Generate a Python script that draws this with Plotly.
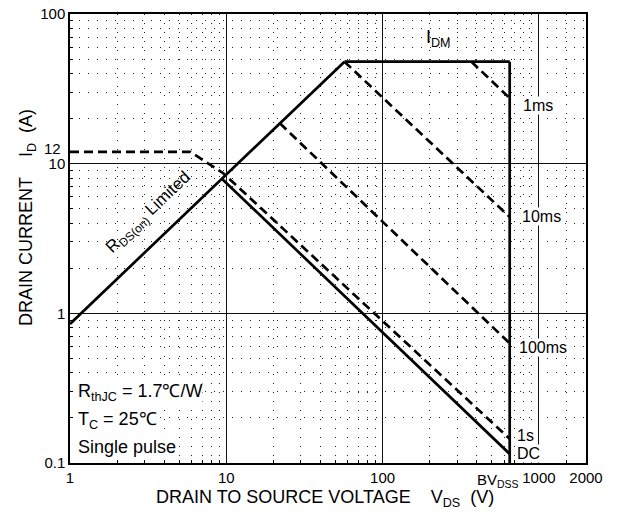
import math
import plotly.graph_objects as go

# Safe operating area boundaries (V_DS in volts, I_D in amperes)
rds_v = [1, 57]
rds_i = [0.85, 48]
idm_v = [57, 650]
idm_i = [48, 48]
bv_v = [650, 650]
bv_i = [48, 0.1]
dc_v = [9.4, 650]
dc_i = [7.9, 0.115]
s1_v = [1, 5.9, 9.6, 650]
s1_i = [12, 12, 8.6, 0.145]
ms100_v = [22, 650]
ms100_i = [18.6, 0.63]
ms10_v = [57, 650]
ms10_i = [48, 4.4]
ms1_v = [370, 650]
ms1_i = [48, 27.4]

x_ticks = [1, 10, 100, 1000, 2000]
x_ticktext = ["1", "10", "100", "1000", "2000"]
y_ticks = [0.1, 1, 10, 100]
y_ticktext = ["0.1", "1", "10", "100"]
x_minor = [m * 10 ** d for d in range(0, 3) for m in range(2, 10)] + [1500]
y_minor = [m * 10 ** d for d in range(-1, 2) for m in range(2, 10)]

FONT = "Liberation Sans, Arial, sans-serif"
LW = 2.7
DASH = "9px,5px"

fig = go.Figure()


def add_line(xs, ys, dash=None):
    fig.add_trace(go.Scatter(
        x=xs, y=ys, mode="lines",
        line=dict(color="black", width=LW, dash=dash),
        showlegend=False, hoverinfo="skip"))


add_line(rds_v, rds_i)
add_line(idm_v, idm_i)
add_line(bv_v, bv_i)
add_line(dc_v, dc_i)
add_line(s1_v, s1_i, DASH)
add_line(ms100_v, ms100_i, DASH)
add_line(ms10_v, ms10_i, DASH)
add_line(ms1_v, ms1_i, DASH)

L = math.log10
anns = []


def label(text, x, y, size=16, xanchor="left", bg="white", **kw):
    anns.append(dict(text=text, x=x, y=y, xref="x", yref="y",
                     showarrow=False, xanchor=xanchor, yanchor="middle",
                     font=dict(family=FONT, size=size, color="black"),
                     bgcolor=bg, borderpad=0, **kw))


label("I<sub>DM</sub>", 2.271, 1.835, size=18, bg=None)
label("1ms", 2.890, 1.386)
label("10ms", 2.883, 0.646)
label("100ms", 2.866, -0.225)
label("1s", 2.853, -0.813)
label("DC", 2.853, -0.934)
label("R<sub>thJC</sub> = 1.7\u2103/W", 0.045, -0.530, size=18)
label("T<sub>C</sub> = 25\u2103", 0.045, -0.718, size=18)
label("Single pulse", 0.045, -0.894, size=18)
label("R<sub>DS(on)</sub> Limited", 0.505, 0.672, size=17,
      xanchor="center", bg=None, textangle=-43.7)

# extra tick labels: 12 A continuous rating and breakdown voltage
anns.append(dict(text="12", x=0, y=L(12), xref="paper", yref="y",
                 xanchor="right", yanchor="middle", xshift=-7, yshift=3,
                 showarrow=False,
                 font=dict(family=FONT, size=15, color="black")))
anns.append(dict(text="BV<sub>DSS</sub>", x=2.886, y=0, xref="x", yref="paper",
                 xanchor="right", yanchor="top", yshift=-6, showarrow=False,
                 font=dict(family=FONT, size=15, color="black")))

# axis titles
sp = "\u00a0" * 4
anns.append(dict(text="DRAIN TO SOURCE VOLTAGE" + sp + "V<sub>DS</sub>\u00a0\u00a0(V)",
                 x=0.495, y=-0.079, xref="paper", yref="paper",
                 xanchor="center", yanchor="middle", showarrow=False,
                 font=dict(family=FONT, size=18, color="black")))
anns.append(dict(text="DRAIN CURRENT" + sp + "I<sub>D</sub>\u00a0\u00a0(A)",
                 x=-0.081, y=0.546, xref="paper", yref="paper", textangle=-90,
                 xanchor="center", yanchor="middle", showarrow=False,
                 font=dict(family=FONT, size=18, color="black")))

axis_common = dict(
    type="log", showline=True, mirror=True, linecolor="black", linewidth=1.5,
    showgrid=True, gridcolor="#111", gridwidth=1, ticks="", zeroline=False,
    automargin=False,
    tickfont=dict(family=FONT, size=15, color="black"),
)

fig.update_layout(
    width=624, height=520,
    margin=dict(l=70, r=38, t=14, b=57, pad=0, autoexpand=False),
    paper_bgcolor="white", plot_bgcolor="white",
    xaxis=dict(range=[0, L(2000)], tickvals=x_ticks, ticktext=x_ticktext,
               minor=dict(tickvals=x_minor, showgrid=True, griddash="1px,8px",
                          gridcolor="#222", gridwidth=1, ticks="inside",
                          ticklen=3, tickcolor="black"),
               **axis_common),
    yaxis=dict(range=[-1, 2], tickvals=y_ticks, ticktext=y_ticktext,
               minor=dict(tickvals=y_minor, showgrid=True, griddash="1px,8px",
                          gridcolor="#222", gridwidth=1, ticks="inside",
                          ticklen=3, tickcolor="black"),
               **axis_common),
    annotations=anns,
)

fig.write_html("out.html")
